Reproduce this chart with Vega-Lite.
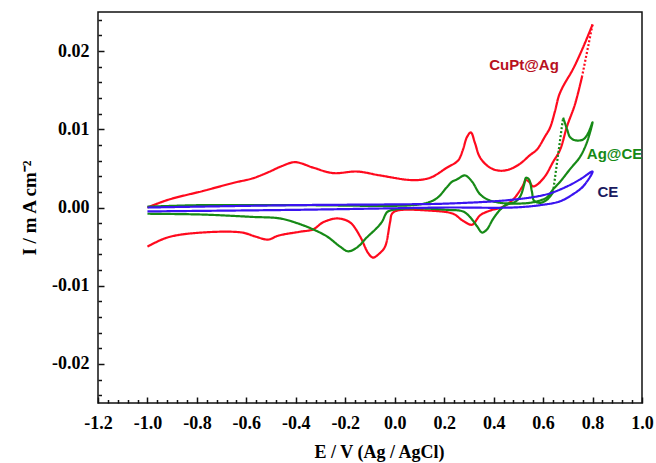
{
  "$schema": "https://vega.github.io/schema/vega-lite/v6.json",
  "width": 544,
  "height": 391,
  "autosize": "none",
  "padding": {"left": 98, "top": 12, "right": 14, "bottom": 60},
  "background": "white",
  "view": {"stroke": "#111111", "strokeWidth": 1.5},
  "datasets": {
    "cv": [
      {"s":"CuPt@Ag","g":"r1","d":"solid","i":1,"E":-1.0,"I":0.0},
      {"s":"CuPt@Ag","g":"r1","d":"solid","i":2,"E":-0.915,"I":0.0010},
      {"s":"CuPt@Ag","g":"r1","d":"solid","i":3,"E":-0.777,"I":0.0021},
      {"s":"CuPt@Ag","g":"r1","d":"solid","i":4,"E":-0.646,"I":0.0032},
      {"s":"CuPt@Ag","g":"r1","d":"solid","i":5,"E":-0.577,"I":0.0037},
      {"s":"CuPt@Ag","g":"r1","d":"solid","i":6,"E":-0.512,"I":0.0045},
      {"s":"CuPt@Ag","g":"r1","d":"solid","i":7,"E":-0.456,"I":0.0053},
      {"s":"CuPt@Ag","g":"r1","d":"solid","i":8,"E":-0.403,"I":0.0058},
      {"s":"CuPt@Ag","g":"r1","d":"solid","i":9,"E":-0.330,"I":0.0051},
      {"s":"CuPt@Ag","g":"r1","d":"solid","i":10,"E":-0.250,"I":0.0044},
      {"s":"CuPt@Ag","g":"r1","d":"solid","i":11,"E":-0.152,"I":0.0046},
      {"s":"CuPt@Ag","g":"r1","d":"solid","i":12,"E":-0.059,"I":0.0041},
      {"s":"CuPt@Ag","g":"r1","d":"solid","i":13,"E":0.074,"I":0.0035},
      {"s":"CuPt@Ag","g":"r1","d":"solid","i":14,"E":0.143,"I":0.0038},
      {"s":"CuPt@Ag","g":"r1","d":"solid","i":15,"E":0.211,"I":0.0051},
      {"s":"CuPt@Ag","g":"r1","d":"solid","i":16,"E":0.256,"I":0.0060},
      {"s":"CuPt@Ag","g":"r1","d":"solid","i":17,"E":0.276,"I":0.0074},
      {"s":"CuPt@Ag","g":"r1","d":"solid","i":18,"E":0.292,"I":0.0090},
      {"s":"CuPt@Ag","g":"r1","d":"solid","i":19,"E":0.308,"I":0.0096},
      {"s":"CuPt@Ag","g":"r1","d":"solid","i":20,"E":0.324,"I":0.0083},
      {"s":"CuPt@Ag","g":"r1","d":"solid","i":21,"E":0.345,"I":0.0064},
      {"s":"CuPt@Ag","g":"r1","d":"solid","i":22,"E":0.385,"I":0.0051},
      {"s":"CuPt@Ag","g":"r1","d":"solid","i":23,"E":0.426,"I":0.0047},
      {"s":"CuPt@Ag","g":"r1","d":"solid","i":24,"E":0.466,"I":0.0049},
      {"s":"CuPt@Ag","g":"r1","d":"solid","i":25,"E":0.507,"I":0.0056},
      {"s":"CuPt@Ag","g":"r1","d":"solid","i":26,"E":0.547,"I":0.0067},
      {"s":"CuPt@Ag","g":"r1","d":"solid","i":27,"E":0.575,"I":0.0074},
      {"s":"CuPt@Ag","g":"r1","d":"solid","i":28,"E":0.608,"I":0.0091},
      {"s":"CuPt@Ag","g":"r1","d":"solid","i":29,"E":0.628,"I":0.0102},
      {"s":"CuPt@Ag","g":"r1","d":"solid","i":30,"E":0.648,"I":0.0123},
      {"s":"CuPt@Ag","g":"r1","d":"solid","i":31,"E":0.664,"I":0.0143},
      {"s":"CuPt@Ag","g":"r1","d":"solid","i":32,"E":0.681,"I":0.0155},
      {"s":"CuPt@Ag","g":"r1","d":"solid","i":33,"E":0.721,"I":0.0177},
      {"s":"CuPt@Ag","g":"r1","d":"solid","i":34,"E":0.762,"I":0.0205},
      {"s":"CuPt@Ag","g":"r1","d":"solid","i":35,"E":0.800,"I":0.0234},
      {"s":"CuPt@Ag","g":"r2","d":"dot","i":36,"E":0.800,"I":0.0234},
      {"s":"CuPt@Ag","g":"r2","d":"dot","i":37,"E":0.758,"I":0.0168},
      {"s":"CuPt@Ag","g":"r3","d":"solid","i":38,"E":0.758,"I":0.0168},
      {"s":"CuPt@Ag","g":"r3","d":"solid","i":39,"E":0.729,"I":0.0132},
      {"s":"CuPt@Ag","g":"r3","d":"solid","i":40,"E":0.697,"I":0.0104},
      {"s":"CuPt@Ag","g":"r3","d":"solid","i":41,"E":0.669,"I":0.0074},
      {"s":"CuPt@Ag","g":"r3","d":"solid","i":42,"E":0.640,"I":0.0058},
      {"s":"CuPt@Ag","g":"r3","d":"solid","i":43,"E":0.608,"I":0.0040},
      {"s":"CuPt@Ag","g":"r3","d":"solid","i":44,"E":0.575,"I":0.0029},
      {"s":"CuPt@Ag","g":"r3","d":"solid","i":45,"E":0.559,"I":0.0027},
      {"s":"CuPt@Ag","g":"r3","d":"solid","i":46,"E":0.543,"I":0.0033},
      {"s":"CuPt@Ag","g":"r3","d":"solid","i":47,"E":0.531,"I":0.0035},
      {"s":"CuPt@Ag","g":"r3","d":"solid","i":48,"E":0.515,"I":0.0026},
      {"s":"CuPt@Ag","g":"r3","d":"solid","i":49,"E":0.478,"I":0.0010},
      {"s":"CuPt@Ag","g":"r3","d":"solid","i":50,"E":0.438,"I":0.0001},
      {"s":"CuPt@Ag","g":"r3","d":"solid","i":51,"E":0.385,"I":-0.0004},
      {"s":"CuPt@Ag","g":"r3","d":"solid","i":52,"E":0.345,"I":-0.0010},
      {"s":"CuPt@Ag","g":"r3","d":"solid","i":53,"E":0.313,"I":-0.0022},
      {"s":"CuPt@Ag","g":"r3","d":"solid","i":54,"E":0.276,"I":-0.0017},
      {"s":"CuPt@Ag","g":"r3","d":"solid","i":55,"E":0.236,"I":-0.0008},
      {"s":"CuPt@Ag","g":"r3","d":"solid","i":56,"E":0.143,"I":-0.0004},
      {"s":"CuPt@Ag","g":"r3","d":"solid","i":57,"E":0.009,"I":-0.0004},
      {"s":"CuPt@Ag","g":"r3","d":"solid","i":58,"E":-0.011,"I":-0.0008},
      {"s":"CuPt@Ag","g":"r3","d":"solid","i":59,"E":-0.019,"I":-0.0019},
      {"s":"CuPt@Ag","g":"r3","d":"solid","i":60,"E":-0.039,"I":-0.0050},
      {"s":"CuPt@Ag","g":"r3","d":"solid","i":61,"E":-0.059,"I":-0.0058},
      {"s":"CuPt@Ag","g":"r3","d":"solid","i":62,"E":-0.088,"I":-0.0064},
      {"s":"CuPt@Ag","g":"r3","d":"solid","i":63,"E":-0.108,"I":-0.0058},
      {"s":"CuPt@Ag","g":"r3","d":"solid","i":64,"E":-0.140,"I":-0.0037},
      {"s":"CuPt@Ag","g":"r3","d":"solid","i":65,"E":-0.181,"I":-0.0019},
      {"s":"CuPt@Ag","g":"r3","d":"solid","i":66,"E":-0.233,"I":-0.0014},
      {"s":"CuPt@Ag","g":"r3","d":"solid","i":67,"E":-0.290,"I":-0.0019},
      {"s":"CuPt@Ag","g":"r3","d":"solid","i":68,"E":-0.330,"I":-0.0028},
      {"s":"CuPt@Ag","g":"r3","d":"solid","i":69,"E":-0.383,"I":-0.0031},
      {"s":"CuPt@Ag","g":"r3","d":"solid","i":70,"E":-0.471,"I":-0.0036},
      {"s":"CuPt@Ag","g":"r3","d":"solid","i":71,"E":-0.512,"I":-0.0041},
      {"s":"CuPt@Ag","g":"r3","d":"solid","i":72,"E":-0.565,"I":-0.0037},
      {"s":"CuPt@Ag","g":"r3","d":"solid","i":73,"E":-0.617,"I":-0.0032},
      {"s":"CuPt@Ag","g":"r3","d":"solid","i":74,"E":-0.779,"I":-0.0032},
      {"s":"CuPt@Ag","g":"r3","d":"solid","i":75,"E":-0.916,"I":-0.0038},
      {"s":"CuPt@Ag","g":"r3","d":"solid","i":76,"E":-1.0,"I":-0.0050},

      {"s":"Ag@CE","g":"g1","d":"solid","i":1,"E":-1.0,"I":0.0001},
      {"s":"Ag@CE","g":"g1","d":"solid","i":2,"E":-0.787,"I":0.0003},
      {"s":"Ag@CE","g":"g1","d":"solid","i":3,"E":-0.403,"I":0.0003},
      {"s":"Ag@CE","g":"g1","d":"solid","i":4,"E":0.074,"I":0.0003},
      {"s":"Ag@CE","g":"g1","d":"solid","i":5,"E":0.131,"I":0.0006},
      {"s":"Ag@CE","g":"g1","d":"solid","i":6,"E":0.171,"I":0.0012},
      {"s":"Ag@CE","g":"g1","d":"solid","i":7,"E":0.211,"I":0.0026},
      {"s":"Ag@CE","g":"g1","d":"solid","i":8,"E":0.232,"I":0.0033},
      {"s":"Ag@CE","g":"g1","d":"solid","i":9,"E":0.252,"I":0.0036},
      {"s":"Ag@CE","g":"g1","d":"solid","i":10,"E":0.284,"I":0.0041},
      {"s":"Ag@CE","g":"g1","d":"solid","i":11,"E":0.313,"I":0.0033},
      {"s":"Ag@CE","g":"g1","d":"solid","i":12,"E":0.345,"I":0.0017},
      {"s":"Ag@CE","g":"g1","d":"solid","i":13,"E":0.385,"I":0.0009},
      {"s":"Ag@CE","g":"g1","d":"solid","i":14,"E":0.478,"I":0.0006},
      {"s":"Ag@CE","g":"g1","d":"solid","i":15,"E":0.507,"I":0.0014},
      {"s":"Ag@CE","g":"g1","d":"solid","i":16,"E":0.523,"I":0.0029},
      {"s":"Ag@CE","g":"g1","d":"solid","i":17,"E":0.531,"I":0.0038},
      {"s":"Ag@CE","g":"g1","d":"solid","i":18,"E":0.543,"I":0.0036},
      {"s":"Ag@CE","g":"g1","d":"solid","i":19,"E":0.555,"I":0.0020},
      {"s":"Ag@CE","g":"g1","d":"solid","i":20,"E":0.563,"I":0.0009},
      {"s":"Ag@CE","g":"g1","d":"solid","i":21,"E":0.588,"I":0.0006},
      {"s":"Ag@CE","g":"g1","d":"solid","i":22,"E":0.616,"I":0.0010},
      {"s":"Ag@CE","g":"g1","d":"solid","i":23,"E":0.640,"I":0.0019},
      {"s":"Ag@CE","g":"g2","d":"dot","i":24,"E":0.640,"I":0.0019},
      {"s":"Ag@CE","g":"g2","d":"dot","i":25,"E":0.681,"I":0.0115},
      {"s":"Ag@CE","g":"g3","d":"solid","i":26,"E":0.681,"I":0.0115},
      {"s":"Ag@CE","g":"g3","d":"solid","i":27,"E":0.697,"I":0.0100},
      {"s":"Ag@CE","g":"g3","d":"solid","i":28,"E":0.709,"I":0.0090},
      {"s":"Ag@CE","g":"g3","d":"solid","i":29,"E":0.729,"I":0.0086},
      {"s":"Ag@CE","g":"g3","d":"solid","i":30,"E":0.762,"I":0.0087},
      {"s":"Ag@CE","g":"g3","d":"solid","i":31,"E":0.782,"I":0.0095},
      {"s":"Ag@CE","g":"g3","d":"solid","i":32,"E":0.800,"I":0.0109},
      {"s":"Ag@CE","g":"g3","d":"solid","i":33,"E":0.778,"I":0.0084},
      {"s":"Ag@CE","g":"g3","d":"solid","i":34,"E":0.750,"I":0.0065},
      {"s":"Ag@CE","g":"g3","d":"solid","i":35,"E":0.709,"I":0.0049},
      {"s":"Ag@CE","g":"g3","d":"solid","i":36,"E":0.669,"I":0.0033},
      {"s":"Ag@CE","g":"g3","d":"solid","i":37,"E":0.640,"I":0.0023},
      {"s":"Ag@CE","g":"g3","d":"solid","i":38,"E":0.616,"I":0.0013},
      {"s":"Ag@CE","g":"g3","d":"solid","i":39,"E":0.588,"I":0.0009},
      {"s":"Ag@CE","g":"g3","d":"solid","i":40,"E":0.547,"I":0.0006},
      {"s":"Ag@CE","g":"g3","d":"solid","i":41,"E":0.507,"I":0.0005},
      {"s":"Ag@CE","g":"g3","d":"solid","i":42,"E":0.455,"I":0.0004},
      {"s":"Ag@CE","g":"g3","d":"solid","i":43,"E":0.426,"I":-0.0003},
      {"s":"Ag@CE","g":"g3","d":"solid","i":44,"E":0.397,"I":-0.0015},
      {"s":"Ag@CE","g":"g3","d":"solid","i":45,"E":0.373,"I":-0.0028},
      {"s":"Ag@CE","g":"g3","d":"solid","i":46,"E":0.353,"I":-0.0032},
      {"s":"Ag@CE","g":"g3","d":"solid","i":47,"E":0.333,"I":-0.0024},
      {"s":"Ag@CE","g":"g3","d":"solid","i":48,"E":0.304,"I":-0.0012},
      {"s":"Ag@CE","g":"g3","d":"solid","i":49,"E":0.276,"I":-0.0005},
      {"s":"Ag@CE","g":"g3","d":"solid","i":50,"E":0.211,"I":-0.0003},
      {"s":"Ag@CE","g":"g3","d":"solid","i":51,"E":0.074,"I":-0.0001},
      {"s":"Ag@CE","g":"g3","d":"solid","i":52,"E":-0.007,"I":-0.0003},
      {"s":"Ag@CE","g":"g3","d":"solid","i":53,"E":-0.031,"I":-0.0006},
      {"s":"Ag@CE","g":"g3","d":"solid","i":54,"E":-0.051,"I":-0.0018},
      {"s":"Ag@CE","g":"g3","d":"solid","i":55,"E":-0.072,"I":-0.0026},
      {"s":"Ag@CE","g":"g3","d":"solid","i":56,"E":-0.112,"I":-0.0038},
      {"s":"Ag@CE","g":"g3","d":"solid","i":57,"E":-0.152,"I":-0.0051},
      {"s":"Ag@CE","g":"g3","d":"solid","i":58,"E":-0.189,"I":-0.0056},
      {"s":"Ag@CE","g":"g3","d":"solid","i":59,"E":-0.221,"I":-0.0050},
      {"s":"Ag@CE","g":"g3","d":"solid","i":60,"E":-0.274,"I":-0.0037},
      {"s":"Ag@CE","g":"g3","d":"solid","i":61,"E":-0.330,"I":-0.0028},
      {"s":"Ag@CE","g":"g3","d":"solid","i":62,"E":-0.395,"I":-0.0020},
      {"s":"Ag@CE","g":"g3","d":"solid","i":63,"E":-0.464,"I":-0.0014},
      {"s":"Ag@CE","g":"g3","d":"solid","i":64,"E":-0.577,"I":-0.0012},
      {"s":"Ag@CE","g":"g3","d":"solid","i":65,"E":-0.779,"I":-0.0009},
      {"s":"Ag@CE","g":"g3","d":"solid","i":66,"E":-1.0,"I":-0.0008},

      {"s":"CE","g":"b1","d":"solid","i":1,"E":-1.0,"I":0.0},
      {"s":"CE","g":"b1","d":"solid","i":2,"E":-0.403,"I":0.0003},
      {"s":"CE","g":"b1","d":"solid","i":3,"E":0.0,"I":0.0004},
      {"s":"CE","g":"b1","d":"solid","i":4,"E":0.211,"I":0.0005},
      {"s":"CE","g":"b1","d":"solid","i":5,"E":0.478,"I":0.0010},
      {"s":"CE","g":"b1","d":"solid","i":6,"E":0.616,"I":0.0017},
      {"s":"CE","g":"b1","d":"solid","i":7,"E":0.697,"I":0.0027},
      {"s":"CE","g":"b1","d":"solid","i":8,"E":0.750,"I":0.0036},
      {"s":"CE","g":"b1","d":"solid","i":9,"E":0.800,"I":0.0046},
      {"s":"CE","g":"b1","d":"solid","i":10,"E":0.762,"I":0.0027},
      {"s":"CE","g":"b1","d":"solid","i":11,"E":0.721,"I":0.0017},
      {"s":"CE","g":"b1","d":"solid","i":12,"E":0.669,"I":0.0008},
      {"s":"CE","g":"b1","d":"solid","i":13,"E":0.588,"I":0.0003},
      {"s":"CE","g":"b1","d":"solid","i":14,"E":0.478,"I":0.0},
      {"s":"CE","g":"b1","d":"solid","i":15,"E":0.211,"I":0.0},
      {"s":"CE","g":"b1","d":"solid","i":16,"E":0.0,"I":-0.0001},
      {"s":"CE","g":"b1","d":"solid","i":17,"E":-0.403,"I":-0.0003},
      {"s":"CE","g":"b1","d":"solid","i":18,"E":-1.0,"I":-0.0005}
    ],
    "labels": [
      {"t":"CuPt@Ag","E":0.523,"I":0.0182},
      {"t":"Ag@CE","E":0.889,"I":0.0069},
      {"t":"CE","E":0.862,"I":0.0020}
    ]
  },
  "layer": [
    {
      "data": {"name": "cv"},
      "mark": {"type": "line", "strokeWidth": 2.2, "interpolate": "catmull-rom", "clip": true},
      "encoding": {
        "x": {
          "field": "E", "type": "quantitative",
          "scale": {"domain": [-1.2, 1.0], "nice": false, "zero": false},
          "axis": {
            "values": [-1.2,-1.16,-1.12,-1.08,-1.04,-1.0,-0.96,-0.92,-0.88,-0.84,-0.8,-0.76,-0.72,-0.68,-0.64,-0.6,-0.56,-0.52,-0.48,-0.44,-0.4,-0.36,-0.32,-0.28,-0.24,-0.2,-0.16,-0.12,-0.08,-0.04,0.0,0.04,0.08,0.12,0.16,0.2,0.24,0.28,0.32,0.36,0.4,0.44,0.48,0.52,0.56,0.6,0.64,0.68,0.72,0.76,0.8,0.84,0.88,0.92,0.96,1.0],
            "tickCount": 200,
            "labelExpr": "abs(datum.value*5 - round(datum.value*5)) < 0.001 ? replace(format(datum.value, '.1f'), '\u2212', '-') : ''",
            "labelOverlap": false,
            "domain": false, "grid": false,
            "tickSize": -6,
            "tickWidth": 1.5,
            "tickDash": {"condition": {"test": "abs(datum.value*5 - round(datum.value*5)) < 0.001", "value": [8, 2]}, "value": [3.5, 10]},
            "tickColor": "#111111",
            "labelPadding": 17, "labelFlush": false,
            "labelFont": "Liberation Serif", "labelFontWeight": "bold", "labelFontSize": 18, "labelColor": "#000000",
            "title": "E / V (Ag / AgCl)",
            "titleFont": "Liberation Serif", "titleFontWeight": "bold", "titleFontSize": 18, "titleColor": "#000000",
            "titlePadding": 11, "titleX": 281
          }
        },
        "y": {
          "field": "I", "type": "quantitative",
          "scale": {"domain": [-0.025, 0.025], "nice": false, "zero": false},
          "axis": {
            "values": [-0.024,-0.022,-0.02,-0.018,-0.016,-0.014,-0.012,-0.01,-0.008,-0.006,-0.004,-0.002,0.0,0.002,0.004,0.006,0.008,0.01,0.012,0.014,0.016,0.018,0.02,0.022,0.024],
            "tickCount": 200,
            "labelExpr": "abs(datum.value*100 - round(datum.value*100)) < 0.001 ? replace(format(datum.value, '.2f'), '\u2212', '-') : ''",
            "labelOverlap": false,
            "domain": false, "grid": false,
            "tickSize": -6,
            "tickWidth": 1.5,
            "tickDash": {"condition": {"test": "abs(datum.value*100 - round(datum.value*100)) < 0.001", "value": [8, 2]}, "value": [3.5, 10]},
            "tickColor": "#111111",
            "labelPadding": 15,
            "labelFont": "Liberation Serif", "labelFontWeight": "bold", "labelFontSize": 18, "labelColor": "#000000",
            "title": "I / m A cm\u207B\u00B2",
            "titleFont": "Liberation Serif", "titleFontWeight": "bold", "titleFontSize": 19, "titleColor": "#000000",
            "titlePadding": 12
          }
        },
        "color": {
          "field": "s", "type": "nominal",
          "scale": {"domain": ["CuPt@Ag", "Ag@CE", "CE"], "range": ["#ff0a1e", "#168a16", "#3a14f0"]},
          "legend": null
        },
        "detail": {"field": "g"},
        "strokeDash": {
          "field": "d", "type": "nominal",
          "scale": {"domain": ["solid", "dot"], "range": [[1, 0], [2, 2]]},
          "legend": null
        },
        "order": {"field": "i", "type": "quantitative"}
      }
    },
    {
      "data": {"name": "labels"},
      "mark": {"type": "text", "font": "Liberation Sans", "fontWeight": "bold", "fontSize": 15, "align": "center", "baseline": "middle"},
      "encoding": {
        "x": {"field": "E", "type": "quantitative"},
        "y": {"field": "I", "type": "quantitative"},
        "text": {"field": "t", "type": "nominal"},
        "color": {
          "field": "t", "type": "nominal",
          "scale": {"domain": ["CuPt@Ag", "Ag@CE", "CE"], "range": ["#b8101e", "#168a16", "#1a1a60"]},
          "legend": null
        }
      }
    }
  ],
  "resolve": {"scale": {"color": "independent"}}
}
